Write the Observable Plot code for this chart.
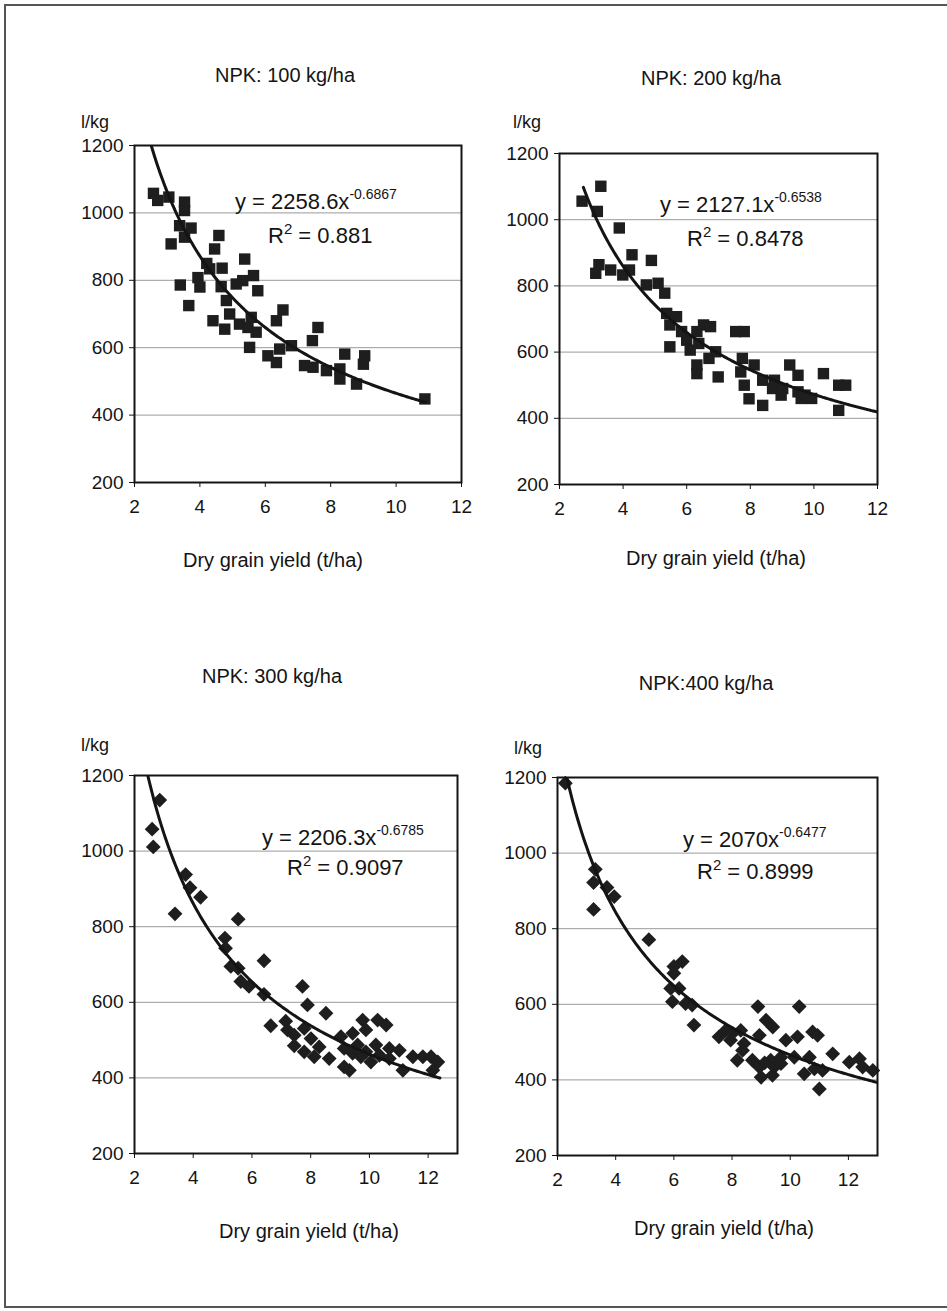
<!DOCTYPE html>
<html><head><meta charset="utf-8">
<script src="https://cdn.jsdelivr.net/npm/d3@7"></script>
<script src="https://cdn.jsdelivr.net/npm/@observablehq/plot@0.6"></script>
<style>
html,body{margin:0;padding:0;background:#fff}
body{width:947px;height:1311px;position:relative;overflow:hidden;font-family:"Liberation Sans",Arial,sans-serif;color:#141414}
.abs{position:absolute;white-space:nowrap;line-height:1}
.border{position:absolute;left:4px;top:4px;width:960px;height:1304px;border-top:2px solid #555;border-left:2px solid #555;border-bottom:2px solid #555;box-sizing:border-box}
.title,.xl{font-size:20px;transform:translate(-50%,-50%)}
.unit{font-size:18px;transform:translate(-50%,-50%)}
.eq,.r2{font-size:22px;transform:translate(0,-50%)}
sup{font-size:14px;vertical-align:0;position:relative;top:-0.75em}
.r2 sup{font-size:15px;top:-0.6em}
</style></head>
<body>
<div class="border"></div>
<script>
// ---------- data ----------
const titles = ["NPK: 100 kg/ha", "NPK: 200 kg/ha", "NPK: 300 kg/ha", "NPK:400 kg/ha"];
const yUnit = "l/kg";
const xLabel = "Dry grain yield (t/ha)";
const yTicks = [200, 400, 600, 800, 1000, 1200];
const xTicks = [2, 4, 6, 8, 10, 12];

// NPK 100 kg/ha
const x100 = [2.58,2.71,3.05,3.53,3.53,3.38,3.73,3.53,3.12,4.58,4.45,4.21,4.30,4.68,5.37,3.94,4.00,3.40,4.65,5.11,5.31,5.64,5.77,4.81,3.66,4.91,6.54,6.34,4.40,4.76,5.21,5.57,5.47,5.72,5.52,6.44,6.80,6.08,6.34,7.61,7.44,7.20,7.46,7.87,8.43,8.28,8.28,8.79,9.04,9.00,10.88];
const y100 = [1058,1037,1047,1032,1007,962,955,928,908,933,893,850,834,836,863,808,780,786,781,789,799,814,769,740,725,700,712,680,680,655,670,690,660,646,601,596,606,576,556,660,621,547,542,532,581,537,507,492,576,551,448];
// NPK 200 kg/ha
const x200 = [2.71,3.30,3.19,3.88,3.24,3.14,3.61,3.99,4.20,4.28,4.89,4.73,5.10,5.31,5.37,5.68,5.47,5.84,6.00,5.47,6.11,6.32,6.53,6.75,6.38,6.91,6.70,6.32,6.32,6.99,7.54,7.81,7.75,8.12,7.70,7.81,7.96,8.39,8.39,8.76,8.70,8.97,9.24,9.50,9.60,9.50,9.93,10.30,10.78,11.00,10.78,9.02,9.72];
const y200 = [1056,1101,1025,975,864,838,848,833,848,894,877,803,808,778,717,707,682,662,636,616,606,662,682,677,626,601,581,561,535,525,662,662,581,561,540,500,459,515,439,515,490,470,561,530,460,480,460,535,500,500,424,490,470];
// NPK 300 kg/ha
const x300 = [2.60,2.64,2.86,3.38,3.74,3.89,4.25,5.08,5.10,5.53,5.28,5.53,5.62,5.90,6.41,6.41,6.64,7.15,7.21,7.44,7.44,7.72,7.89,8.52,7.78,8.01,7.78,8.12,8.29,8.63,9.03,9.14,9.32,9.43,9.60,9.43,9.77,9.88,9.71,10.05,10.28,10.57,10.22,10.34,10.68,11.02,10.68,11.14,11.48,11.82,12.10,12.33,12.16,9.88,9.14];
const y300 = [1058,1011,1135,834,938,903,878,770,743,820,695,690,655,642,710,621,538,550,527,513,485,642,593,571,531,504,469,456,482,451,509,429,420,518,487,465,553,527,456,442,553,540,487,460,478,473,451,420,456,456,456,442,420,469,478];
// NPK 400 kg/ha
const x400 = [2.27,3.30,3.24,3.70,3.95,3.24,5.14,6.29,6.00,6.00,5.89,6.18,5.95,6.40,6.63,6.69,7.55,7.78,7.95,8.01,8.30,8.41,8.36,8.18,8.70,8.94,9.00,8.89,9.17,9.40,8.94,9.33,9.45,9.68,9.39,9.85,10.25,10.31,10.14,10.77,10.94,10.66,10.48,10.83,11.11,11.00,11.46,12.03,12.38,12.49,12.84,9.68,9.12];
const y400 = [1185,957,922,909,885,851,771,713,700,682,642,642,607,602,598,545,514,531,505,523,531,496,478,452,452,434,407,594,558,540,518,452,434,460,412,505,514,594,460,527,518,460,416,429,425,376,469,447,456,434,425,443,445];

// power-law trend lines as printed on the chart: y = a * x^b
const coefA = [2258.6, 2127.1, 2206.3, 2070];
const coefB = [-0.6867, -0.6538, -0.6785, -0.6477];
const eqA = ["2258.6", "2127.1", "2206.3", "2070"];
const eqB = ["-0.6867", "-0.6538", "-0.6785", "-0.6477"];
const r2 = ["0.881", "0.8478", "0.9097", "0.8999"];
const curveFrom = [2.45, 2.75, 2.4, 2.2];
const curveTo = [10.9, 12, 12.4, 13];
const xMax = [12, 12, 13, 13];

const xs = [x100, x200, x300, x400];
const ys = [y100, y200, y300, y400];

// ---------- layout ----------
const layout = [
  {l:134, t:145, r:461, b:482, title:[285,75], unit:[95,122], xl:[273,560], eq:[235,202], r2:[268,236], sym:"square"},
  {l:559, t:153, r:877, b:484, title:[711,78], unit:[527,122], xl:[716,558], eq:[660,205], r2:[687,239], sym:"square"},
  {l:134, t:775, r:457, b:1153, title:[272,676], unit:[95,745], xl:[309,1231], eq:[262,838], r2:[287,868], sym:"diamond"},
  {l:557, t:777, r:877, b:1155, title:[706,683], unit:[528,748], xl:[724,1228], eq:[683,840], r2:[697,872], sym:"diamond"}
];

const squareSym = {draw(ctx, size){ const h = Math.sqrt(size/Math.PI); ctx.rect(-h,-h,2*h,2*h); }};
const diamondSym = {draw(ctx, size){ const h = Math.sqrt(size/Math.PI)*1.3; ctx.moveTo(0,-h); ctx.lineTo(h,0); ctx.lineTo(0,h); ctx.lineTo(-h,0); ctx.closePath(); }};

function addText(cls, pos, html){
  const d = document.createElement("div");
  d.className = "abs " + cls;
  d.style.left = pos[0] + "px";
  d.style.top = pos[1] + "px";
  d.innerHTML = html;
  document.body.appendChild(d);
}

layout.forEach((L, i) => {
  const ML = 70, MT = 12, MR = 12, MB = 44;
  const w = (L.r - L.l) + ML + MR, h = (L.b - L.t) + MT + MB;
  const N = 200;
  const cx = d3.range(N + 1).map(k => curveFrom[i] + (curveTo[i] - curveFrom[i]) * k / N);
  const cy = cx.map(x => coefA[i] * Math.pow(x, coefB[i]));
  const chart = Plot.plot({
    width: w, height: h,
    marginLeft: ML, marginTop: MT, marginRight: MR, marginBottom: MB,
    x: {domain: [2, xMax[i]]},
    y: {domain: [200, 1200]},
    style: {fontFamily: '"Liberation Sans", Arial, sans-serif', fontSize: "19px", color: "#141414", background: "transparent", overflow: "visible"},
    marks: [
      Plot.ruleY(yTicks.slice(1, -1), {stroke: "#999", strokeWidth: 1}),
      Plot.axisY(yTicks, {tickSize: 5, tickPadding: 6, label: null, fontSize: 19, tickFormat: d => String(d)}),
      Plot.axisX(xTicks, {tickSize: 5, tickPadding: 12, label: null, fontSize: 19}),
      Plot.dot(xs[i], {x: xs[i], y: ys[i], r: 5.7, symbol: L.sym === "square" ? squareSym : diamondSym, fill: "#1e1e1e", stroke: "none"}),
      Plot.line(cx, {x: cx, y: cy, stroke: "#141414", strokeWidth: 3, clip: true}),
      Plot.frame({stroke: "#141414", strokeWidth: 2})
    ]
  });
  chart.style.position = "absolute";
  chart.style.left = (L.l - ML) + "px";
  chart.style.top = (L.t - MT) + "px";
  document.body.appendChild(chart);

  addText("title", L.title, titles[i]);
  addText("unit", L.unit, yUnit);
  addText("xl", L.xl, xLabel);
  addText("eq", L.eq, "y = " + eqA[i] + "x<sup>" + eqB[i] + "</sup>");
  addText("r2", L.r2, "R<sup>2</sup> = " + r2[i]);
});
</script>
</body></html>
